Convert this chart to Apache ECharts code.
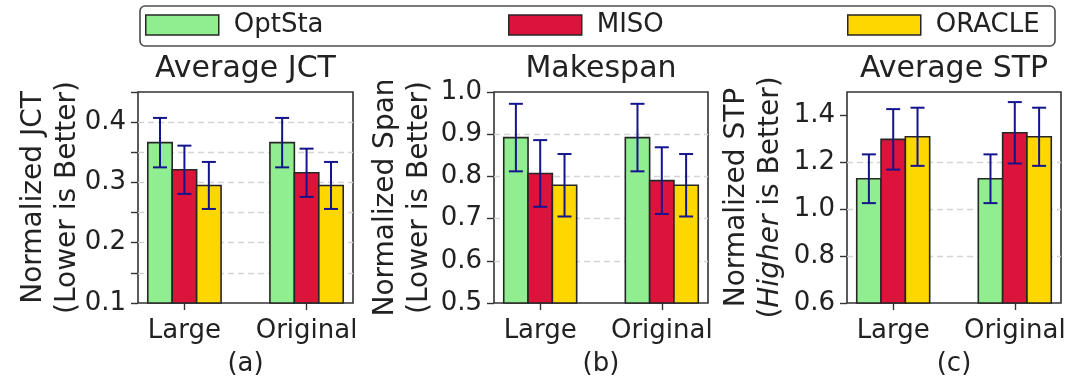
<!DOCTYPE html>
<html><head><meta charset="utf-8">
<script src="https://cdn.jsdelivr.net/npm/echarts@6/dist/echarts.min.js"></script>
<style>html,body{margin:0;padding:0;background:#fff}#c{width:1091px;height:377px}</style>
</head><body><div id="c"></div>
<script>
// ---------------- data ----------------
const categories = ['Large', 'Original'];
const methods = ['OptSta', 'MISO', 'ORACLE'];

const jctOptSta = [0.366, 0.366];
const jctMISO = [0.321, 0.316];
const jctORACLE = [0.295, 0.295];
const jctErrOptSta = [0.041, 0.041];
const jctErrMISO = [0.040, 0.040];
const jctErrORACLE = [0.039, 0.039];

const spanOptSta = [0.892, 0.892];
const spanMISO = [0.807, 0.790];
const spanORACLE = [0.779, 0.779];
const spanErrOptSta = [0.080, 0.080];
const spanErrMISO = [0.079, 0.079];
const spanErrORACLE = [0.074, 0.074];

const stpOptSta = [1.130, 1.130];
const stpMISO = [1.298, 1.326];
const stpORACLE = [1.309, 1.309];
const stpErrOptSta = [0.104, 0.104];
const stpErrMISO = [0.129, 0.131];
const stpErrORACLE = [0.124, 0.124];

const panelTitles = ['Average JCT', 'Makespan', 'Average STP'];
const panelTags = ['(a)', '(b)', '(c)'];
const yNameLine1 = ['Normalized JCT', 'Normalized Span', 'Normalized STP'];
const yNameLine2 = ['(Lower is Better)', '(Lower is Better)', '({i|Higher} is Better)'];
const yTicksJCT = [0.1, 0.15, 0.2, 0.25, 0.3, 0.35, 0.4, 0.45];
const yLabelsJCT = [0.1, 0.2, 0.3, 0.4];
const yTicksSpan = [0.5, 0.6, 0.7, 0.8, 0.9, 1.0];
const yTicksSTP = [0.6, 0.8, 1.0, 1.2, 1.4];

// ---------------- style / layout ----------------
const FONT = 'DejaVu Sans';
const TXT = '#222';
const colors = ['#90EE90', '#DC143C', '#FFD700'];
const ERR = '#14148c';
const EDGE = '#262626';
const BAR_W = 0.2;
const grids = [
  {left: 138, top: 92, width: 215, height: 211},
  {left: 494, top: 92, width: 214, height: 211},
  {left: 847, top: 92, width: 214, height: 211}
];
const yCfg = [
  {min: 0.1, max: 0.45, interval: 0.05, ticks: yTicksJCT, labels: yLabelsJCT, dec: 1},
  {min: 0.5, max: 1.0, interval: 0.1, ticks: yTicksSpan, labels: yTicksSpan, dec: 1},
  {min: 0.6, max: 1.5, interval: 0.2, ticks: yTicksSTP, labels: yTicksSTP, dec: 1}
];
const panelData = [
  [[jctOptSta, jctErrOptSta], [jctMISO, jctErrMISO], [jctORACLE, jctErrORACLE]],
  [[spanOptSta, spanErrOptSta], [spanMISO, spanErrMISO], [spanORACLE, spanErrORACLE]],
  [[stpOptSta, stpErrOptSta], [stpMISO, stpErrMISO], [stpORACLE, stpErrORACLE]]
];
const yNameX = [[34, 68], [386, 420], [737, 771]];

function makeRender(s) {
  return function (params, api) {
    const ci = api.value(0), v = api.value(1), e = api.value(2);
    const xc = ci + (s - 1) * BAR_W;
    const cs = params.coordSys;
    const base = cs.y + cs.height;
    const pl = api.coord([xc - BAR_W / 2, v]);
    const pr = api.coord([xc + BAR_W / 2, v]);
    const pt = api.coord([xc, v + e]);
    const pb = api.coord([xc, v - e]);
    const xm = (pl[0] + pr[0]) / 2;
    const cap = 7;
    return {type: 'group', children: [
      {type: 'rect', shape: {x: pl[0], y: pl[1], width: pr[0] - pl[0], height: base - pl[1]},
       style: {fill: colors[s], stroke: EDGE, lineWidth: 1.6}},
      {type: 'line', shape: {x1: xm, y1: pt[1], x2: xm, y2: pb[1]}, style: {stroke: ERR, lineWidth: 2}},
      {type: 'line', shape: {x1: xm - cap, y1: pt[1], x2: xm + cap, y2: pt[1]}, style: {stroke: ERR, lineWidth: 2}},
      {type: 'line', shape: {x1: xm - cap, y1: pb[1], x2: xm + cap, y2: pb[1]}, style: {stroke: ERR, lineWidth: 2}}
    ]};
  };
}

const option = {
  backgroundColor: '#fff',
  animation: false,
  grid: grids.map(g => Object.assign({show: true, borderColor: '#333', borderWidth: 1.6, backgroundColor: 'transparent'}, g)),
  xAxis: grids.map((g, i) => ({
    type: 'value', gridIndex: i, min: -0.38, max: 1.38,
    axisLine: {show: false, onZero: false},
    splitLine: {show: false},
    axisTick: {show: true, length: 7, customValues: [0, 1], lineStyle: {color: '#333', width: 1.4}},
    axisLabel: {customValues: [0, 1], formatter: v => categories[Math.round(v)] || '',
      fontSize: 26, fontFamily: FONT, color: TXT, margin: 15}
  })),
  yAxis: yCfg.map((c, i) => ({
    type: 'value', gridIndex: i, min: c.min, max: c.max, interval: c.interval,
    axisLine: {show: false, onZero: false},
    axisTick: {show: true, length: 7, customValues: c.ticks, lineStyle: {color: '#333', width: 1.4}},
    axisLabel: {customValues: c.labels, fontSize: 26, fontFamily: FONT, color: TXT, margin: 12,
      formatter: v => {
        const ok = c.labels.some(l => Math.abs(l - v) < 1e-6);
        return ok ? v.toFixed(c.dec) : '';
      }},
    splitLine: {show: true, showMinLine: false, showMaxLine: false,
      lineStyle: {color: '#d4d4d4', type: [6, 4], width: 1.3}}
  })),
  legend: methods.map((m, i) => ({
    data: [{name: m, itemStyle: {borderColor: EDGE, borderWidth: 1.5}}],
    left: [145, 508, 847][i], top: 12, padding: 0,
    icon: 'rect', itemWidth: 73, itemHeight: 20,
    textStyle: {fontSize: 26, fontFamily: FONT, color: TXT, padding: [0, 0, 0, 10]}
  })),
  series: [],
  graphic: []
};

panelData.forEach((pd, p) => {
  pd.forEach(([vals, errs], s) => {
    option.series.push({
      type: 'custom', name: methods[s], xAxisIndex: p, yAxisIndex: p,
      itemStyle: {color: colors[s], borderColor: EDGE, borderWidth: 1.5},
      renderItem: makeRender(s),
      encode: {x: 0, y: 1},
      data: categories.map((c, k) => [k, vals[k], errs[k]])
    });
  });
});

// legend frame
option.graphic.push({type: 'rect', z: -1, shape: {x: 140, y: 6, width: 915, height: 40, r: 5},
  style: {fill: '#fff', stroke: '#4d4d4d', lineWidth: 1.6}});

grids.forEach((g, p) => {
  const cx = g.left + g.width / 2;
  option.graphic.push({type: 'text', x: cx, y: 69,
    style: {text: panelTitles[p], fontSize: 30, fontFamily: FONT, fill: TXT, align: 'center', verticalAlign: 'middle'}});
  option.graphic.push({type: 'text', x: cx, y: 364,
    style: {text: panelTags[p], fontSize: 26, fontFamily: FONT, fill: TXT, align: 'center', verticalAlign: 'middle'}});
  const cy = g.top + g.height / 2;
  option.graphic.push({type: 'text', x: yNameX[p][0], y: cy, rotation: Math.PI / 2,
    style: {text: yNameLine1[p], fontSize: 28, fontFamily: FONT, fill: TXT, align: 'center', verticalAlign: 'middle'}});
  option.graphic.push({type: 'text', x: yNameX[p][1], y: cy, rotation: Math.PI / 2,
    style: {text: yNameLine2[p], fontSize: 28, fontFamily: FONT, fill: TXT, align: 'center', verticalAlign: 'middle',
      rich: {i: {fontSize: 28, fontFamily: FONT, fontStyle: 'italic', fill: TXT}}}});
});

const chart = echarts.init(document.getElementById('c'), null, {renderer: 'canvas'});
chart.setOption(option);
</script>
</body></html>
